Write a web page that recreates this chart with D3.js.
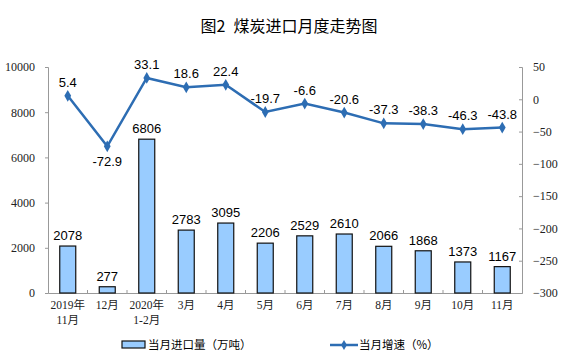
<!DOCTYPE html>
<html>
<head>
<meta charset="utf-8">
<script src="https://cdn.jsdelivr.net/npm/d3@7"></script>
<style>
  body { margin: 0; background: #fff; }
  svg text { font-family: Arial, "Liberation Sans", "Noto Sans CJK SC", sans-serif; }
</style>
</head>
<body>
<div id="chart"></div>
<script>
var categories = ['2019年\n11月', '12月', '2020年\n1-2月', '3月', '4月', '5月', '6月', '7月', '8月', '9月', '10月', '11月'];
var imports = [2078, 277, 6806, 2783, 3095, 2206, 2529, 2610, 2066, 1868, 1373, 1167];
var growth = [5.4, -72.9, 33.1, 18.6, 22.4, -19.7, -6.6, -20.6, -37.3, -38.3, -46.3, -43.8];
var leftTicks = [0, 2000, 4000, 6000, 8000, 10000];
var rightTicks = [50, 0, -50, -100, -150, -200, -250, -300];

var width = 577, height = 364,
  margin = { top: 67, right: 55, bottom: 71, left: 48 },
  cjk = '"Noto Sans CJK SC", sans-serif',
  tickFont = '"Liberation Serif", "Noto Sans CJK SC", serif',
  lineColor = '#2d6db3';

var svg = d3.select('#chart').append('svg')
  .attr('width', width)
  .attr('height', height);

var title = svg.append('text')
  .attr('x', 289).attr('y', 32)
  .attr('text-anchor', 'middle')
  .style('font-family', cjk)
  .style('font-size', '16px');
title.append('tspan').text('图2');
title.append('tspan').attr('dx', 8).text('煤炭进口月度走势图');

var x = d3.scaleBand()
  .domain(categories)
  .range([margin.left, width - margin.right]);

var yL = d3.scaleLinear().domain([0, 10000]).range([height - margin.bottom, margin.top]);
var yR = d3.scaleLinear().domain([-300, 50]).range([height - margin.bottom, margin.top]);

// axes
var axisL = svg.append('g')
  .attr('transform', 'translate(' + margin.left + ',0)')
  .call(d3.axisLeft(yL).tickValues(leftTicks).tickFormat(d3.format('d')).tickSize(3).tickPadding(10));

var axisR = svg.append('g')
  .attr('transform', 'translate(' + (width - margin.right) + ',0)')
  .call(d3.axisRight(yR).tickValues(rightTicks).tickFormat(d3.format('d')).tickSize(-3).tickPadding(11));

var axisB = svg.append('g')
  .attr('transform', 'translate(0,' + (height - margin.bottom) + ')')
  .call(d3.axisBottom(x).tickSize(0).tickFormat(''));

// small ticks between categories
axisB.selectAll('.boundary')
  .data(categories.slice(1))
  .enter().append('line')
  .attr('x1', function(d) { return x(d); })
  .attr('x2', function(d) { return x(d); })
  .attr('y1', 0).attr('y2', -3)
  .attr('stroke', '#999');

[axisL, axisR, axisB].forEach(function(a) {
  a.select('.domain').attr('stroke', '#999');
  a.selectAll('.tick line').attr('stroke', '#999');
  a.selectAll('text')
    .style('font-size', '12px')
    .style('font-family', tickFont)
    .attr('fill', '#222');
});

// two-line category labels
categories.forEach(function(c) {
  var lines = c.split('\n');
  var t = svg.append('text')
    .attr('x', x(c) + x.bandwidth() / 2)
    .attr('y', height - margin.bottom + 16)
    .attr('text-anchor', 'middle')
    .style('font-size', '11.5px')
    .style('font-family', tickFont)
    .attr('fill', '#222');
  lines.forEach(function(l, i) {
    t.append('tspan')
      .attr('x', x(c) + x.bandwidth() / 2)
      .attr('dy', i === 0 ? 0 : 15)
      .text(l);
  });
});

// bars
var barW = 16;
svg.selectAll('.bar')
  .data(imports)
  .enter().append('rect')
  .attr('class', 'bar')
  .attr('x', function(d, i) { return x(categories[i]) + x.bandwidth() / 2 - barW / 2; })
  .attr('y', function(d) { return yL(d); })
  .attr('width', barW)
  .attr('height', function(d) { return yL(0) - yL(d); })
  .attr('fill', '#99ccff')
  .attr('stroke', '#111')
  .attr('stroke-width', 1.2);

svg.selectAll('.barLabel')
  .data(imports)
  .enter().append('text')
  .attr('x', function(d, i) { return x(categories[i]) + x.bandwidth() / 2; })
  .attr('y', function(d) { return yL(d) - 6; })
  .attr('text-anchor', 'middle')
  .style('font-size', '13px')
  .text(function(d) { return d; });

// line
var line = d3.line()
  .x(function(d, i) { return x(categories[i]) + x.bandwidth() / 2; })
  .y(function(d) { return yR(d); });

svg.append('path')
  .datum(growth)
  .attr('d', line)
  .attr('fill', 'none')
  .attr('stroke', lineColor)
  .attr('stroke-width', 2.5);

svg.selectAll('.dot')
  .data(growth)
  .enter().append('path')
  .attr('transform', function(d, i) {
    return 'translate(' + (x(categories[i]) + x.bandwidth() / 2) + ',' + yR(d) + ')';
  })
  .attr('d', d3.symbol().type(d3.symbolDiamond).size(40))
  .attr('fill', lineColor);

svg.selectAll('.lineLabel')
  .data(growth)
  .enter().append('text')
  .attr('x', function(d, i) { return x(categories[i]) + x.bandwidth() / 2; })
  .attr('y', function(d, i) { return i === 1 ? yR(d) + 20 : yR(d) - 9; })
  .attr('text-anchor', 'middle')
  .style('font-size', '13px')
  .text(function(d) { return d; });

// legend
var lg = svg.append('g').attr('transform', 'translate(0,345)');
lg.append('rect')
  .attr('x', 122).attr('y', -4)
  .attr('width', 23).attr('height', 7)
  .attr('fill', '#99ccff').attr('stroke', '#111').attr('stroke-width', 1.2);
lg.append('text')
  .attr('x', 148).attr('y', 4)
  .style('font-family', cjk).style('font-size', '11.5px')
  .text('当月进口量（万吨）');

lg.append('line')
  .attr('x1', 330).attr('x2', 358).attr('y1', 0).attr('y2', 0)
  .attr('stroke', lineColor).attr('stroke-width', 2.5);
lg.append('path')
  .attr('transform', 'translate(344,0)')
  .attr('d', d3.symbol().type(d3.symbolDiamond).size(30))
  .attr('fill', lineColor);
lg.append('text')
  .attr('x', 359).attr('y', 4)
  .style('font-family', cjk).style('font-size', '11.5px')
  .text('当月增速（%）');
</script>
</body>
</html>
